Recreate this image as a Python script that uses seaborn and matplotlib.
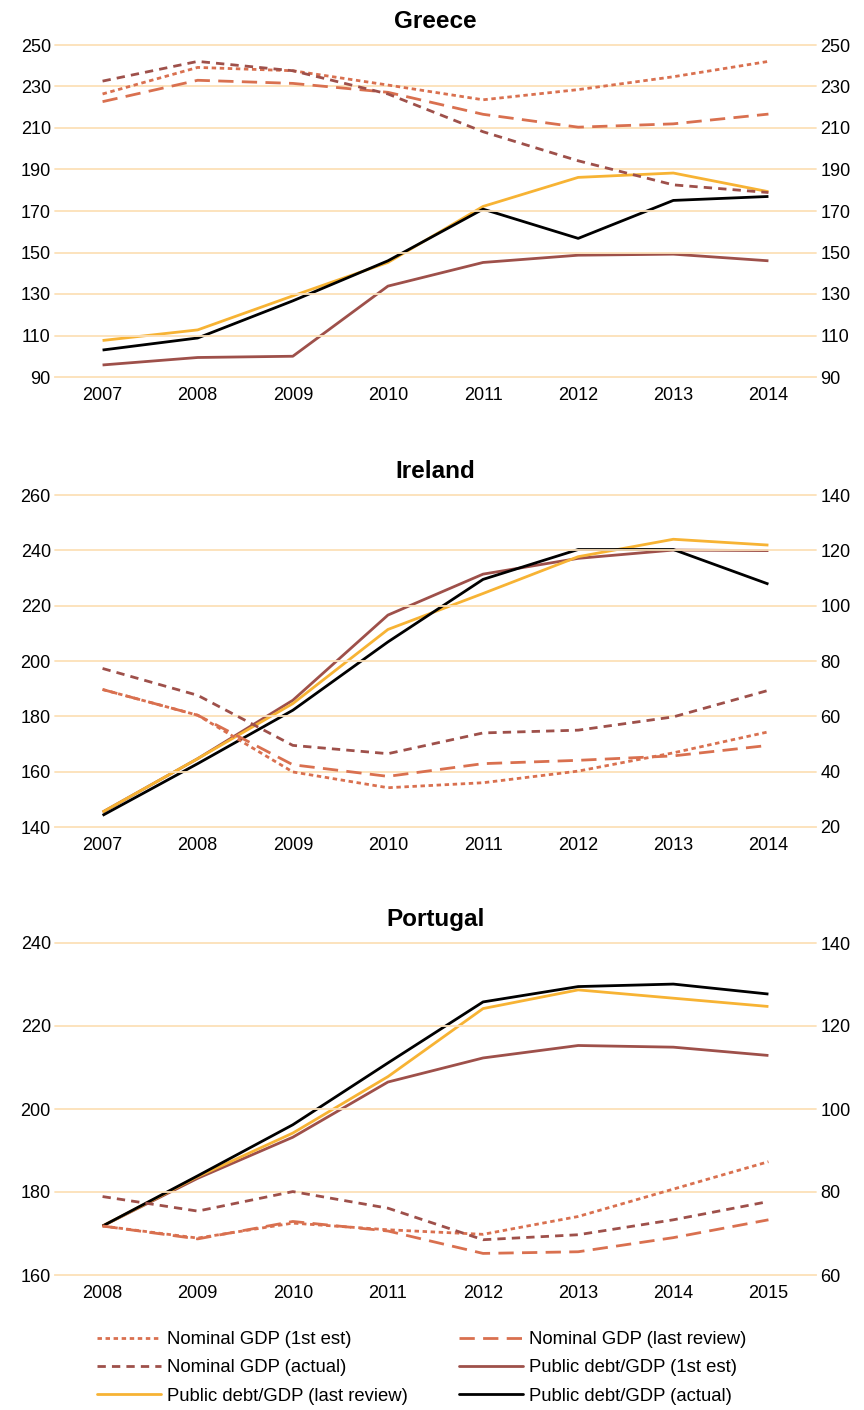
import matplotlib
matplotlib.use("Agg")
import matplotlib.pyplot as plt
import seaborn as sns
import pandas as pd
from matplotlib.lines import Line2D

sns.set_theme(style="white")
plt.rcParams['font.family'] = ['Liberation Sans', 'DejaVu Sans']

# ---------------- data ----------------
greece_years = ["2007", "2008", "2009", "2010", "2011", "2012", "2013", "2014"]
greece_gdp_1st = [226.4, 239.2, 237.6, 230.7, 223.6, 228.5, 234.7, 242.1]
greece_gdp_last = [222.7, 233.0, 231.5, 227.2, 216.6, 210.4, 212.0, 216.7]
greece_gdp_actual = [232.6, 242.1, 237.6, 226.4, 208.2, 194.2, 182.6, 178.9]
greece_debt_1st = [95.8, 99.4, 100.0, 133.8, 145.2, 148.7, 149.2, 146.0]
greece_debt_last = [107.6, 112.7, 129.1, 145.2, 172.2, 186.2, 188.3, 179.3]
greece_debt_actual = [103.0, 108.8, 126.7, 146.0, 170.9, 156.8, 175.1, 177.0]

ireland_years = ["2007", "2008", "2009", "2010", "2011", "2012", "2013", "2014"]
ireland_gdp_1st = [189.7, 180.4, 159.9, 154.2, 156.0, 160.2, 166.8, 174.4]
ireland_gdp_last = [189.7, 180.4, 162.5, 158.3, 162.9, 164.1, 165.7, 169.5]
ireland_gdp_actual = [197.3, 187.6, 169.5, 166.5, 174.0, 175.0, 179.8, 189.4]
ireland_debt_1st = [25.4, 44.7, 65.8, 96.6, 111.4, 117.1, 120.1, 119.9]
ireland_debt_last = [25.4, 44.7, 64.6, 91.4, 104.4, 117.7, 124.0, 121.9]
ireland_debt_actual = [24.2, 42.9, 62.2, 86.9, 109.5, 120.3, 120.3, 107.8]

portugal_years = ["2008", "2009", "2010", "2011", "2012", "2013", "2014", "2015"]
portugal_gdp_1st = [171.8, 168.9, 172.5, 170.9, 169.8, 174.1, 180.7, 187.3]
portugal_gdp_last = [171.8, 168.7, 172.9, 170.6, 165.2, 165.6, 169.0, 173.3]
portugal_gdp_actual = [178.9, 175.4, 180.1, 176.1, 168.5, 169.7, 173.3, 177.7]
portugal_debt_1st = [71.8, 83.3, 93.2, 106.5, 112.3, 115.3, 114.9, 112.9]
portugal_debt_last = [71.8, 83.7, 94.2, 107.8, 124.2, 128.7, 126.7, 124.7]
portugal_debt_actual = [71.8, 83.9, 96.2, 111.1, 125.8, 129.5, 130.1, 127.7]

series_names = ["Nominal GDP (1st est)", "Nominal GDP (last review)",
                "Nominal GDP (actual)", "Public debt/GDP (1st est)",
                "Public debt/GDP (last review)", "Public debt/GDP (actual)"]

# ---------------- styles ----------------
SALMON = "#D9704F"
DARKRED = "#9E504A"
YELLOW = "#F7B334"
BLACK = "#000000"
GRID = "#FCE0B8"
LW = 2.0
styles = {
    "Nominal GDP (1st est)": dict(color=SALMON, dashes=(1.6, 1.3)),
    "Nominal GDP (last review)": dict(color=SALMON, dashes=(5.5, 3.0)),
    "Nominal GDP (actual)": dict(color=DARKRED, dashes=(3.0, 2.2)),
    "Public debt/GDP (1st est)": dict(color=DARKRED, dashes=None),
    "Public debt/GDP (last review)": dict(color=YELLOW, dashes=None),
    "Public debt/GDP (actual)": dict(color=BLACK, dashes=None),
}

panels = [
    dict(title="Greece", years=greece_years,
         gdp=[greece_gdp_1st, greece_gdp_last, greece_gdp_actual],
         debt=[greece_debt_1st, greece_debt_last, greece_debt_actual],
         left=(90, 250, 20), right=(90, 250, 20), bottom_px=377),
    dict(title="Ireland", years=ireland_years,
         gdp=[ireland_gdp_1st, ireland_gdp_last, ireland_gdp_actual],
         debt=[ireland_debt_1st, ireland_debt_last, ireland_debt_actual],
         left=(140, 260, 20), right=(20, 140, 20), bottom_px=827),
    dict(title="Portugal", years=portugal_years,
         gdp=[portugal_gdp_1st, portugal_gdp_last, portugal_gdp_actual],
         debt=[portugal_debt_1st, portugal_debt_last, portugal_debt_actual],
         left=(160, 240, 20), right=(60, 140, 20), bottom_px=1275),
]

W, H = 864, 1410
fig = plt.figure(figsize=(W / 100, H / 100), dpi=100)
FS = 13


def draw(ax, years, values, name):
    st = styles[name]
    df = pd.DataFrame({"year": years, "value": values})
    sns.lineplot(data=df, x="year", y="value", ax=ax, sort=False,
                 color=st["color"], linewidth=LW)
    ln = ax.get_lines()[-1]
    if st["dashes"] is not None:
        ln.set_dashes(st["dashes"])
    ln.set_solid_capstyle("butt")
    ln.set_dash_capstyle("butt")


for p in panels:
    left_px, right_px = 55, 816
    h_px = 332
    ax = fig.add_axes([left_px / W, 1 - p["bottom_px"] / H,
                       (right_px - left_px) / W, h_px / H])
    ax2 = ax.twinx()
    for vals, name in zip(p["gdp"], series_names[:3]):
        draw(ax, p["years"], vals, name)
    for vals, name in zip(p["debt"], series_names[3:]):
        draw(ax2, p["years"], vals, name)

    lo, hi, step = p["left"]
    ax.set_ylim(lo, hi)
    ax.set_yticks(list(range(lo, hi + 1, step)))
    rlo, rhi, rstep = p["right"]
    ax2.set_ylim(rlo, rhi)
    ax2.set_yticks(list(range(rlo, rhi + 1, rstep)))

    ax.set_xlim(-0.5, 7.5)
    ax.set_xticks(range(8))
    ax.set_xticklabels(p["years"])
    ax.set_xticks([i - 0.5 for i in range(9)], minor=True)

    ax.grid(False)
    ax2.grid(False)
    for t in ax.get_yticks():
        if t != lo:
            ax.axhline(t, color=GRID, lw=1.3, zorder=0, clip_on=False)
    ax.set_zorder(ax2.get_zorder() + 1)
    ax.patch.set_visible(False)

    for a in (ax, ax2):
        for s in a.spines.values():
            s.set_visible(False)
        a.set_xlabel("")
        a.set_ylabel("")
    ax.spines["bottom"].set_visible(True)
    ax.spines["bottom"].set_color(GRID)
    ax.spines["bottom"].set_linewidth(1.3)

    ax.tick_params(axis="x", which="major", length=0, pad=7, labelsize=FS, colors="black")
    ax.tick_params(axis="x", which="minor", length=4, width=1.2, color=GRID, direction="out")
    ax.tick_params(axis="y", length=0, pad=3, labelsize=FS, colors="black")
    ax2.tick_params(axis="y", length=0, pad=3, labelsize=FS, colors="black")
    ax.set_title(p["title"], fontsize=17.5, fontweight="bold", pad=12, color="black")

# ---------------- legend ----------------
handles = {}
for name in series_names:
    st = styles[name]
    h = Line2D([0], [0], color=st["color"], lw=LW)
    if st["dashes"] is not None:
        h.set_dashes(st["dashes"])
    handles[name] = h

order = [series_names[0], series_names[2], series_names[4],
         series_names[1], series_names[3], series_names[5]]
fig.legend([handles[n] for n in order], order, loc="upper left",
           bbox_to_anchor=(97 / W, 1 - 1331 / H), ncol=2, frameon=False,
           fontsize=13.3, handlelength=3.45, handletextpad=0.33,
           columnspacing=2.78, labelspacing=0.62, borderpad=0,
           borderaxespad=0, labelcolor="black")

fig.savefig("out.png", dpi=100)
